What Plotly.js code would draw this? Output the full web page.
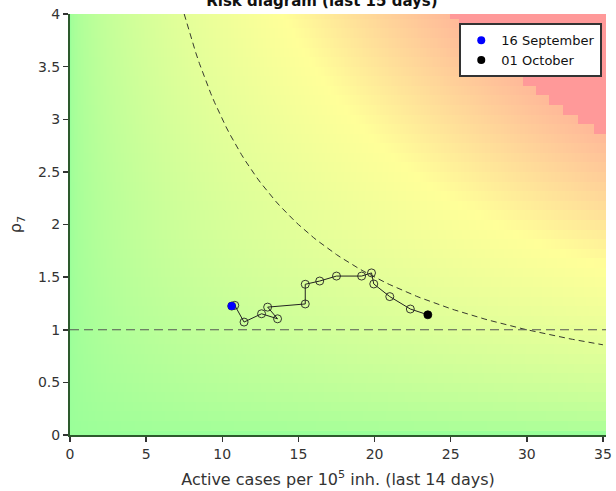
<!DOCTYPE html>
<html>
<head>
<meta charset="utf-8">
<script src="https://cdn.plot.ly/plotly-3.0.1.min.js"></script>
<style>html,body{margin:0;padding:0;background:#fff;}#chart{width:616px;height:491px;}</style>
</head>
<body>
<div id="chart"></div>
<script>
// Daily trajectory, 16 September -> 01 October
const dates = ["16 Sep","17 Sep","18 Sep","19 Sep","20 Sep","21 Sep","22 Sep","23 Sep","24 Sep","25 Sep","26 Sep","27 Sep","28 Sep","29 Sep","30 Sep","01 Oct"];
const activeCases = [10.62, 10.82, 11.43, 12.58, 13.63, 12.98, 15.45, 15.45, 16.40, 17.50, 19.15, 19.80, 19.95, 21.00, 22.35, 23.50];
const rho7 = [1.225, 1.232, 1.073, 1.152, 1.104, 1.215, 1.245, 1.432, 1.463, 1.510, 1.510, 1.540, 1.435, 1.315, 1.197, 1.142];
const legendLabels = ["16 September", "01 October"];
const xTicks = [0, 5, 10, 15, 20, 25, 30, 35];
const yTicks = [0, 0.5, 1, 1.5, 2, 2.5, 3, 3.5, 4];
const riskThreshold = 30;   // dashed curve: cases * rho = 30
const riskYellow = 56;      // background is yellow around cases * rho = 56
const riskTop = 125;        // top of the colour scale
const riskCap = 100;        // at or above cases * rho = 100 the background is solid red

// background risk field (cases * rho), coarse in rho, fine in cases; shown on a sqrt scale
const gx = [], gy = [];
for (let i = 0; i <= 352; i++) gx.push(i * 0.1);
for (let j = 0; j <= 44; j++) gy.push(j * 4 / 44);
const gz = gy.map(r => gx.map(c => {
  const p = c * r;
  return p >= riskCap ? Math.sqrt(riskTop) : Math.sqrt(p);
}));
const yellowPos = Math.sqrt(riskYellow) / Math.sqrt(riskTop);

// threshold curve
const cx = [], cy = [];
for (let c = 7.5; c <= 35.001; c += 0.25) { cx.push(c); cy.push(riskThreshold / c); }

const n = activeCases.length;
const traces = [
  {type: 'heatmap', x: gx, y: gy, z: gz, zmin: 0, zmax: Math.sqrt(riskTop), zsmooth: false,
   colorscale: [[0, '#99ff99'], [yellowPos, '#ffff99'], [1, '#ff9999']], showscale: false, hoverinfo: 'skip'},
  {type: 'scatter', mode: 'lines', x: cx, y: cy, showlegend: false,
   line: {color: '#222', width: 0.9, dash: '6px,4px'}},
  {type: 'scatter', mode: 'lines+markers', x: activeCases, y: rho7, text: dates, showlegend: false,
   line: {color: '#222', width: 1}, marker: {symbol: 'circle-open', size: 8, color: '#222', line: {width: 0.9}}},
  {type: 'scatter', mode: 'markers', x: [activeCases[0]], y: [rho7[0]], name: legendLabels[0],
   marker: {color: '#0000ff', size: 8}},
  {type: 'scatter', mode: 'markers', x: [activeCases[n-1]], y: [rho7[n-1]], name: legendLabels[1],
   marker: {color: '#000000', size: 8}}
];

const layout = {
  width: 616, height: 491,
  margin: {l: 70, r: 10, t: 14, b: 56},
  paper_bgcolor: '#fff', plot_bgcolor: '#fff',
  font: {family: 'DejaVu Sans', size: 13, color: '#333'},
  title: {text: '<b>Risk diagram (last 15 days)</b>', font: {family: 'DejaVu Sans', size: 15, color: '#111'},
          xref: 'paper', x: 0.47, xanchor: 'center', yref: 'container', y: 0.999, yanchor: 'middle'},
  xaxis: {range: [0, 35.2], tickvals: xTicks, ticks: 'outside', ticklen: 5, tickwidth: 1.5, tickcolor: '#333',
          showgrid: false, zeroline: false, showline: true, linecolor: '#2d5a2d', linewidth: 2,
          tickfont: {size: 14, color: '#333'},
          title: {text: 'Active cases per 10<sup>5</sup> inh. (last 14 days)', font: {size: 16, color: '#333'}, standoff: 13}},
  yaxis: {range: [0, 4], tickvals: yTicks, ticks: 'outside', ticklen: 5, tickwidth: 1.5, tickcolor: '#333',
          showgrid: false, zeroline: false, showline: true, linecolor: '#2d5a2d', linewidth: 2,
          tickfont: {size: 14, color: '#333'},
          title: {text: 'ρ<sub>7</sub>', font: {size: 16, color: '#333'}, standoff: 12}},
  shapes: [{type: 'line', xref: 'paper', x0: 0, x1: 1, yref: 'y', y0: 1, y1: 1,
            line: {color: '#555', width: 1, dash: '9px,5px'}}],
  legend: {x: 0.993, xanchor: 'right', y: 0.978, yanchor: 'top', bgcolor: '#fff',
           bordercolor: '#333', borderwidth: 2, font: {size: 13, color: '#111'},
           tracegroupgap: 0, itemwidth: 30}
};

Plotly.newPlot('chart', traces, layout, {staticPlot: true, displayModeBar: false});
</script>
</body>
</html>
